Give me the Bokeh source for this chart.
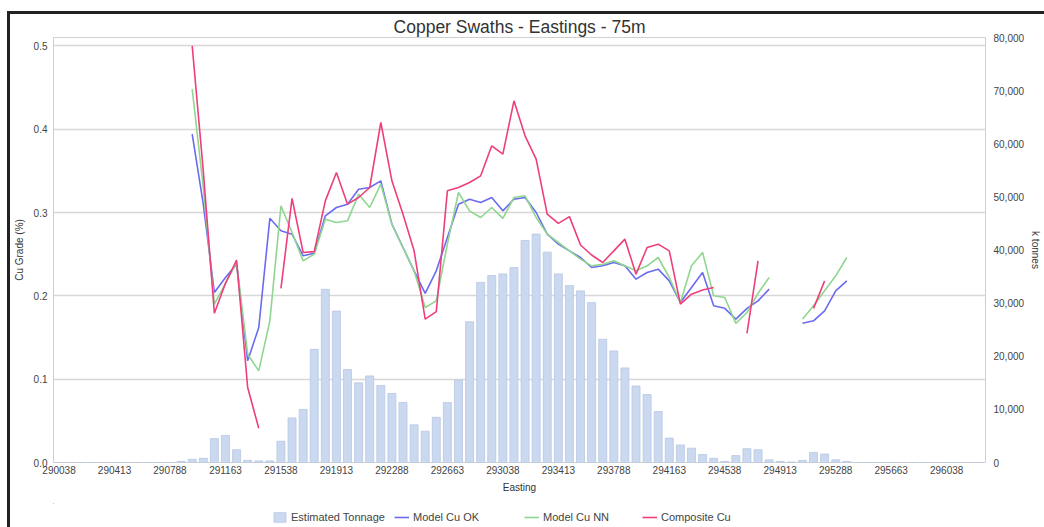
import numpy as np
from bokeh.plotting import figure
from bokeh.layouts import column
from bokeh.models import (Range1d, LinearAxis, FixedTicker, NumeralTickFormatter,
                          Legend, LegendItem, ColumnDataSource)
from bokeh.embed import file_html
from bokeh.resources import INLINE

FONT = "Liberation Sans"

# ---- data -------------------------------------------------------------
east_start = 290038
east_step = 75
n_cat = 84
eastings = [east_start + east_step * i for i in range(n_cat)]
tick_labels = [290038, 290413, 290788, 291163, 291538, 291913, 292288, 292663,
               293038, 293413, 293788, 294163, 294538, 294913, 295288, 295663, 296038]

tonnage = ([0] * 11 +
           [200, 600, 800, 4500, 5100, 2400, 400, 300, 300, 4000,
            8400, 10000, 21300, 32600, 28500, 17500, 15000, 16300, 14500, 13000,
            11300, 7100, 5900, 8500, 11300, 15500, 26500, 33900, 35200, 35500,
            36700, 41800, 43000, 39600, 35500, 33300, 32300, 30100, 23200, 21000,
            17800, 14400, 12800, 9600, 4600, 3300, 2700, 1500, 800, 200,
            1300, 2600, 2400, 500, 200, 100, 400, 1900, 1600, 500,
            200] +
           [0] * 12)

cu_ok = ([None] * 12 +
         [0.394, 0.31, 0.204, 0.222, 0.238, 0.122, 0.162, 0.293, 0.278, 0.274,
          0.248, 0.251, 0.296, 0.306, 0.31, 0.328, 0.33, 0.338, 0.286, 0.258,
          0.23, 0.203, 0.23, 0.27, 0.31, 0.316, 0.312, 0.318, 0.302, 0.316,
          0.318, 0.3, 0.274, 0.262, 0.254, 0.246, 0.234, 0.236, 0.24, 0.236,
          0.22, 0.228, 0.232, 0.218, 0.192, 0.21, 0.228, 0.188, 0.185, 0.172,
          0.185, 0.194, 0.208, None, None, 0.167, 0.17, 0.182, 0.206, 0.218] +
         [None] * 12)

cu_nn = ([None] * 12 +
         [0.448, 0.33, 0.19, 0.215, 0.24, 0.13, 0.11, 0.17, 0.308, 0.276,
          0.242, 0.25, 0.292, 0.288, 0.29, 0.322, 0.306, 0.334, 0.286, 0.258,
          0.23, 0.186, 0.194, 0.262, 0.324, 0.302, 0.294, 0.306, 0.293, 0.318,
          0.32, 0.294, 0.274, 0.264, 0.254, 0.244, 0.236, 0.238, 0.242, 0.236,
          0.23, 0.236, 0.246, 0.222, 0.192, 0.236, 0.252, 0.2, 0.198, 0.167,
          0.18, 0.203, 0.222, None, None, 0.172, 0.188, 0.206, 0.224, 0.246] +
         [None] * 12)

cu_comp = ([None] * 12 +
           [0.5, 0.35, 0.179, 0.215, 0.243, 0.09, 0.041, None, 0.209, 0.317,
            0.252, 0.253, 0.314, 0.348, 0.31, 0.318, 0.33, 0.408, 0.338, 0.298,
            0.254, 0.172, 0.181, 0.326, 0.33, 0.336, 0.344, 0.38, 0.37, 0.434,
            0.392, 0.364, 0.298, 0.287, 0.295, 0.261, 0.249, 0.24, 0.254, 0.268,
            0.226, 0.258, 0.262, 0.254, 0.19, 0.202, 0.207, 0.21, None, None,
            0.155, 0.242, None, None, None, None, 0.185, 0.218, None, None] +
           [None] * 12)

grade_ticks = [0.0, 0.1, 0.2, 0.3, 0.4, 0.5]
tonne_ticks = [0, 10000, 20000, 30000, 40000, 50000, 60000, 70000, 80000]

series_names = ["Estimated Tonnage", "Model Cu OK", "Model Cu NN", "Composite Cu"]

# ---- styles -------------------------------------------------------------
BAR_FILL, BAR_LINE = "#cbd9f0", "#b7c7e2"
C_OK, C_NN, C_COMP = "#6b6bf2", "#8fd68f", "#ee3f7c"

# ---- main figure --------------------------------------------------------
def arr(v):
    return np.array([np.nan if x is None else x for x in v], dtype=float)

src = ColumnDataSource(dict(x=eastings, t=tonnage, ok=arr(cu_ok), nn=arr(cu_nn), comp=arr(cu_comp)))

W = 1034
p = figure(width=W, height=489, output_backend="svg", toolbar_location=None,
           x_range=Range1d(eastings[0] - east_step / 2, eastings[-1] + east_step / 2),
           y_range=Range1d(0, 0.51),
           min_border_left=42, min_border_right=59, min_border_top=23, min_border_bottom=41,
           background_fill_color="white", border_fill_color="white")

p.title.text = "Copper Swaths - Eastings - 75m"
p.title.align = "center"
p.title.text_font = FONT
p.title.text_font_size = "17.5px"
p.title.text_font_style = "normal"
p.title.text_color = "#333333"
p.title.standoff = 1

p.outline_line_color = "#cfcfcf"
p.xgrid.grid_line_color = None
p.ygrid.ticker = FixedTicker(ticks=grade_ticks[1:])
p.ygrid.grid_line_color = "#d8d8d8"
p.ygrid.grid_line_width = 1.5

p.extra_y_ranges = {"t": Range1d(0, 80000)}

def draw_series(fig, y_range_name):
    b = fig.vbar(x="x", top="t", width=east_step * 0.72, source=src, y_range_name=y_range_name,
                 fill_color=BAR_FILL, line_color=BAR_LINE, line_width=0.8)
    a = fig.line("x", "ok", source=src, line_color=C_OK, line_width=1.6)
    n = fig.line("x", "nn", source=src, line_color=C_NN, line_width=1.6)
    c = fig.line("x", "comp", source=src, line_color=C_COMP, line_width=1.6)
    return [b, a, n, c]

draw_series(p, "t")

def style_axis(ax, size="10px"):
    ax.major_label_text_font = FONT
    ax.major_label_text_font_size = size
    ax.major_label_text_color = "#444444"
    ax.axis_label_text_font = FONT
    ax.axis_label_text_font_size = "10px"
    ax.axis_label_text_font_style = "normal"
    ax.axis_label_text_color = "#333333"
    ax.major_tick_line_color = None
    ax.minor_tick_line_color = None
    ax.major_tick_out = 0
    ax.major_tick_in = 0
    ax.minor_tick_out = 0
    ax.minor_tick_in = 0
    ax.axis_line_color = None

xa = p.xaxis[0]
xa.ticker = FixedTicker(ticks=tick_labels)
xa.formatter = NumeralTickFormatter(format="0")
xa.axis_label = "Easting"
xa.major_label_standoff = 3
xa.axis_label_standoff = 5
style_axis(xa)

ya = p.yaxis[0]
ya.ticker = FixedTicker(ticks=grade_ticks)
ya.formatter = NumeralTickFormatter(format="0.0")
ya.axis_label = "Cu Grade (%)"
ya.major_label_standoff = 6
ya.axis_label_standoff = 6
style_axis(ya)

ra = LinearAxis(y_range_name="t", ticker=FixedTicker(ticks=tonne_ticks),
                formatter=NumeralTickFormatter(format="0,0"), axis_label="k tonnes")
ra.major_label_standoff = 8
ra.axis_label_standoff = 3
style_axis(ra)
p.add_layout(ra, "right")

# ---- legend strip: same series, view window placed beyond the data ------
lf = figure(width=W, height=24, output_backend="svg", toolbar_location=None,
            x_range=Range1d(eastings[-1] + 2000, eastings[-1] + 3000), y_range=Range1d(0, 0.51),
            x_axis_type=None, y_axis_type=None,
            min_border_left=0, min_border_right=0, min_border_top=0, min_border_bottom=0,
            outline_line_color=None, background_fill_color="white", border_fill_color="white")
lf.extra_y_ranges = {"t": Range1d(-200000, -100000)}
lg_renderers = draw_series(lf, "t")

for name, r, xoff in zip(series_names, lg_renderers, [219, 341, 471, 589]):
    lg = Legend(items=[LegendItem(label=name, renderers=[r])],
                location=(xoff, 4),
                label_text_font=FONT, label_text_font_size="11px", label_text_color="#444444",
                glyph_width=15, glyph_height=12, label_standoff=4, padding=2, margin=0,
                border_line_color=None, background_fill_alpha=0)
    lf.add_layout(lg)

layout = column(p, lf, spacing=0,
                styles={"margin-left": "7px", "margin-top": "11px",
                        "border-left": "3px solid #222222", "border-top": "3px solid #222222"})

open("out.html", "w").write(file_html(layout, INLINE))
